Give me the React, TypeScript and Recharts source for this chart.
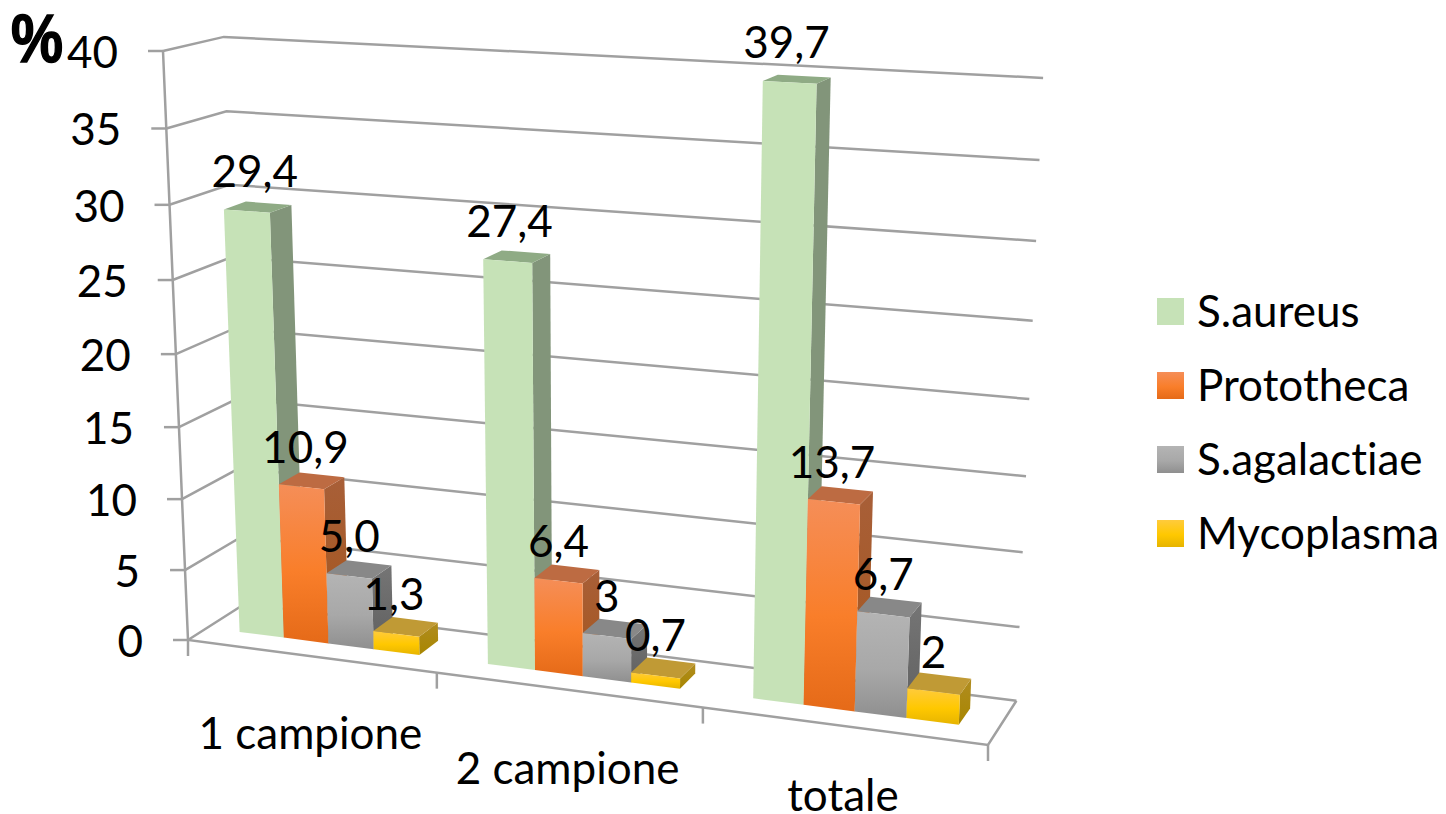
import { Bar, BarChart, CartesianGrid, LabelList, XAxis, YAxis } from 'recharts';

const CHART_W = 1446;
const CHART_H = 814;
const AXIS_SIZE = 1;
const PLOT_W = CHART_W - AXIS_SIZE;
const PLOT_H = CHART_H - AXIS_SIZE;
const FONT = 'Lato, Carlito, sans-serif';
const FONT_SIZE = 44;
const GRID = '#a0a0a0';

const categories = ['1 campione', '2 campione', 'totale'];
const sAureus = [29.4, 27.4, 39.7];
const prototheca = [10.9, 6.4, 13.7];
const sAgalactiae = [5.0, 3, 6.7];
const mycoplasma = [1.3, 0.7, 2];

const sAureusLabels = ['29,4', '27,4', '39,7'];
const protothecaLabels = ['10,9', '6,4', '13,7'];
const sAgalactiaeLabels = ['5,0', '3', '6,7'];
const mycoplasmaLabels = ['1,3', '0,7', '2'];

const yTicks = [0, 5, 10, 15, 20, 25, 30, 35, 40];

const rows = categories.map((category, i) => ({
  category,
  aureus: sAureus[i],
  prototheca: prototheca[i],
  agalactiae: sAgalactiae[i],
  mycoplasma: mycoplasma[i],
}));

const series = [
  { key: 'aureus', name: 'S.aureus', labels: sAureusLabels, id: 'green', top: '#8fab85', stops: ['#c6e2b7', '#c6e2b7', '#c6e2b7'], side: ['#82957a', '#82957a'] },
  { key: 'prototheca', name: 'Prototheca', labels: protothecaLabels, id: 'orange', top: '#bd6b42', stops: ['#f58e58', '#f97e2a', '#e56a18'], side: ['#a85f38', '#a5561c'] },
  { key: 'agalactiae', name: 'S.agalactiae', labels: sAgalactiaeLabels, id: 'gray', top: '#888888', stops: ['#b4b4b4', '#a8a8a8', '#8f8f8f'], side: ['#757575', '#606060'] },
  { key: 'mycoplasma', name: 'Mycoplasma', labels: mycoplasmaLabels, id: 'yellow', top: '#c09a35', stops: ['#ffcb3c', '#ffc800', '#e6b400'], side: ['#b08c20', '#a88600'] },
];

// hand placement of the value labels and category labels
const labelNudge: Record<string, number[]> = {
  aureus: [8, 2, -3],
  prototheca: [4, 0, -2],
  agalactiae: [0, 0, 0],
  mycoplasma: [-2, 0, 0],
};
const categoryDrop = [93, 94, 85];

// Projective camera: floor origin plus the ends of the three box edges, with a weight per edge
const O = [188, 640];
const A = [988, 745];
const B = [163, 51];
const C = [244.5, 604];
const WA = 0.903;
const WB = 0.943;
const WC = 1.04;

const project = (u: number, v: number, w: number) => {
  const s = 1 - u - v - w;
  const d = s + WA * u + WB * v + WC * w;
  return [0, 1].map((i) => (s * O[i] + WA * u * A[i] + WB * v * B[i] + WC * w * C[i]) / d);
};

const toU = (x: number) => (x - AXIS_SIZE) / PLOT_W;
const toV = (y: number) => 1 - y / PLOT_H;
const pts = (list: number[][]) => list.map((p) => `${p[0].toFixed(1)},${p[1].toFixed(1)}`).join(' ');

// depth of the bars inside the box
const W_FRONT = 0.333;
const W_BACK = 0.71;

const textStyle = { fontVariantLigatures: 'none' } as const;

const Bar3D = ({ x, y, width, height, s }: any) => {
  const u0 = toU(x);
  const u1 = toU(x + width);
  const v1 = toV(y);
  const v0 = toV(y + height);
  return (
    <g>
      <polygon fill={`url(#${s.id}Side)`} points={pts([project(u1, v0, W_FRONT), project(u1, v0, W_BACK), project(u1, v1, W_BACK), project(u1, v1, W_FRONT)])} />
      <polygon fill={s.top} points={pts([project(u0, v1, W_FRONT), project(u1, v1, W_FRONT), project(u1, v1, W_BACK), project(u0, v1, W_BACK)])} />
      <polygon fill={`url(#${s.id})`} points={pts([project(u0, v0, W_FRONT), project(u1, v0, W_FRONT), project(u1, v1, W_FRONT), project(u0, v1, W_FRONT)])} />
    </g>
  );
};

const BarLabel = ({ x, y, width, index, s }: any) => {
  const p = project(toU(x + width / 2), toV(y), W_FRONT);
  return (
    <text x={p[0] + labelNudge[s.key][index]} y={p[1] - 24} textAnchor="middle" fontFamily={FONT} fontSize={FONT_SIZE} fill="#000" style={textStyle}>
      {s.labels[index]}
    </text>
  );
};

const YTick = ({ y, payload }: any) => {
  const p = project(0, toV(y), 0);
  return (
    <g>
      <line x1={p[0] - 15} y1={p[1]} x2={p[0]} y2={p[1]} stroke={GRID} strokeWidth={2.5} />
      <text x={p[0] - 45} y={p[1] + 17} textAnchor="end" fontFamily={FONT} fontSize={FONT_SIZE} fill="#000" style={textStyle}>
        {payload.value}
      </text>
    </g>
  );
};

const XTick = ({ x, payload, index }: any) => {
  const p = project(toU(x), 0, 0);
  return (
    <text x={p[0]} y={p[1] + categoryDrop[index]} textAnchor="middle" fontFamily={FONT} fontSize={FONT_SIZE} fill="#000" style={textStyle}>
      {payload.value}
    </text>
  );
};

const gridLine = ({ y1 }: any) => {
  const v = toV(y1);
  return (
    <polyline
      key={`grid-${y1}`}
      fill="none"
      stroke={GRID}
      strokeWidth={2.5}
      points={pts([project(0, v, 0), project(0, v, 1), project(1, v, 1)])}
    />
  );
};

// left axis, front floor edge, right floor edge and the category tick marks
const Frame = () => {
  const ticks = [0, 1 / 3, 2 / 3, 1].map((u) => project(u, 0, 0));
  return (
    <g fill="none" stroke={GRID} strokeWidth={2.5}>
      <polyline points={pts([project(0, 1, 0), project(0, 0, 0), project(1, 0, 0), project(1, 0, 1)])} />
      {ticks.map((p, i) => (
        <line key={i} x1={p[0]} y1={p[1]} x2={p[0]} y2={p[1] + 16} />
      ))}
    </g>
  );
};

const LegendBox = () => (
  <g fontFamily={FONT} fontSize={FONT_SIZE} fill="#000" style={textStyle}>
    {series.map((s, i) => (
      <g key={s.key}>
        <rect x={1157} y={298 + i * 74} width={27} height={27} fill={`url(#${s.id})`} />
        <text x={1197} y={327 + i * 74}>
          {s.name}
        </text>
      </g>
    ))}
  </g>
);

export default function App() {
  return (
    <div style={{ position: 'absolute', left: 0, top: 0, width: CHART_W, height: CHART_H, background: '#fff' }}>
      <BarChart
        width={CHART_W}
        height={CHART_H}
        data={rows}
        margin={{ top: 0, right: 0, bottom: 0, left: 0 }}
        barCategoryGap="13.5%"
        barGap={0}
      >
        <defs>
          {series.map((s) => (
            <linearGradient key={s.id} id={s.id} x1="0" y1="0" x2="0" y2="1">
              <stop offset="0%" stopColor={s.stops[0]} />
              <stop offset="55%" stopColor={s.stops[1]} />
              <stop offset="100%" stopColor={s.stops[2]} />
            </linearGradient>
          ))}
          {series.map((s) => (
            <linearGradient key={s.id} id={`${s.id}Side`} x1="0" y1="0" x2="0" y2="1">
              <stop offset="0%" stopColor={s.side[0]} />
              <stop offset="100%" stopColor={s.side[1]} />
            </linearGradient>
          ))}
        </defs>
        <CartesianGrid vertical={false} horizontal={gridLine} />
        <XAxis dataKey="category" height={AXIS_SIZE} axisLine={false} tickLine={false} interval={0} tick={<XTick />} />
        <YAxis width={AXIS_SIZE} domain={[0, 40]} ticks={yTicks} interval={0} axisLine={false} tickLine={false} tick={<YTick />} />
        <Frame />
        {series.map((s) => (
          <Bar
            key={s.key}
            dataKey={s.key}
            name={s.name}
            isAnimationActive={false}
            shape={(p: any) => <Bar3D {...p} s={s} />}
          >
            <LabelList dataKey={s.key} content={(p: any) => <BarLabel {...p} s={s} />} />
          </Bar>
        ))}
        <text x={11} y={62} fontFamily="'Liberation Sans', sans-serif" fontSize={68} fontWeight={700} fill="#000" stroke="#000" strokeWidth={1.5} textLength={52} lengthAdjust="spacingAndGlyphs">
          %
        </text>
        <LegendBox />
      </BarChart>
    </div>
  );
}
